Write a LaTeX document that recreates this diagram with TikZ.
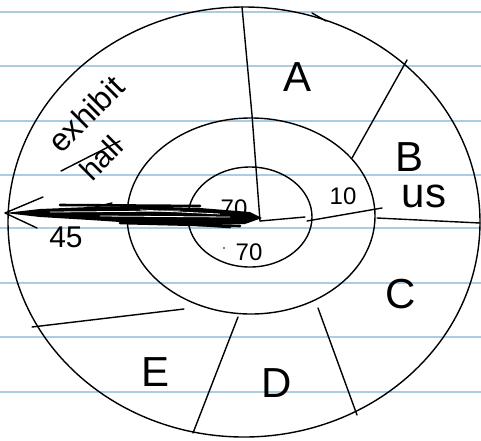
\documentclass[tikz,border=0pt]{standalone}
\usepackage{fontspec}
\setmainfont{Liberation Sans}
\definecolor{paperline}{RGB}{172,204,228}
\tikzset{
  pen/.style={line width=1.4pt, line cap=round, line join=round},
  rule/.style={paperline, line width=2pt},
  hand/.style={inner sep=0pt, font=#1},
  scrib/.style={line width=2.6pt, line cap=round},
}
\begin{document}
\begin{tikzpicture}[x=1pt,y=-1pt]
\useasboundingbox (0,0) rectangle (481,440);
% paper rules
\foreach \yy in {12,66,121,175,228,283,337,392} \draw[rule] (0,\yy) -- (481,\yy);
% ellipses
\draw[pen] (244,222) ellipse [x radius=236, y radius=215];
\draw[pen] (251,216) ellipse [x radius=124, y radius=98];
\draw[pen] (250,217) ellipse [x radius=62, y radius=50];
% centre
\coordinate (ctr) at (260,221);
\coordinate (tipL) at (5,213);
% dividers
\draw[pen] (242,7) -- (252,115) -- (ctr);
\draw[pen] (407,60) -- (352,158);
\draw[pen] (ctr) -- (305,217);
\draw[pen] (307,221) -- (382,208);
\draw[pen] (377,218) -- (480,223);
\draw[pen] (318,308) -- (357,415);
\draw[pen] (238,317) -- (193,433);
\draw[pen] (184,309) -- (32,327);
\draw[pen] (312,13) -- (326,21);
% thick scribbled arrow
\fill (tipL) -- (40,209) -- (90,207) -- (130,206) -- (200,208) -- (250,212) -- (262,218)
  -- (245,224) -- (200,225) -- (150,224) -- (90,220) -- (40,217) -- cycle;
\foreach \a/\b/\c/\d in {60/205/200/206, 120/223/240/226, 185/224/230/227}
  \draw[scrib] (\a,\b) -- (\c,\d);
\foreach \a/\b/\c/\d in {50/212/180/211, 100/216/230/217, 140/210/220/214}
  \draw[white, line width=0.8pt] (\a,\b) -- (\c,\d);
\draw[pen] (95,207) -- (112,203);
\draw[pen] (43,197) -- (tipL) -- (37,228);
% labels
\node[hand={\fontsize{42}{42}\selectfont}] (lA) at (298,77) {A};
\node[hand={\fontsize{42}{42}\selectfont}] (lB) at (409,157) {B};
\node[hand={\fontsize{42}{42}\selectfont}] (lC) at (401,294) {C};
\node[hand={\fontsize{42}{42}\selectfont}] (lD) at (277,383) {D};
\node[hand={\fontsize{42}{42}\selectfont}] (lE) at (156,372) {E};
\node[hand={\fontsize{42}{42}\selectfont}] (lus) at (424,196) {us};
\node[hand={\fontsize{24}{24}\selectfont}] (l10) at (343,196) {10};
\node[hand={\fontsize{30}{30}\selectfont}] (l45) at (66,237) {45};
\node[hand={\fontsize{24}{24}\selectfont}] (l70a) at (234,208) {70};
\node[hand={\fontsize{24}{24}\selectfont}] (l70b) at (249,252) {70};
\fill (224,248) circle (0.9);
\node[hand={\fontsize{32}{32}\selectfont}, rotate=45] (lex) at (86,114) {exhibit};
\node[hand={\fontsize{30}{30}\selectfont}, rotate=45] (lhall) at (101,158) {hall};
\draw[pen] (61,171) -- (120,141);
\end{tikzpicture}
\end{document}
